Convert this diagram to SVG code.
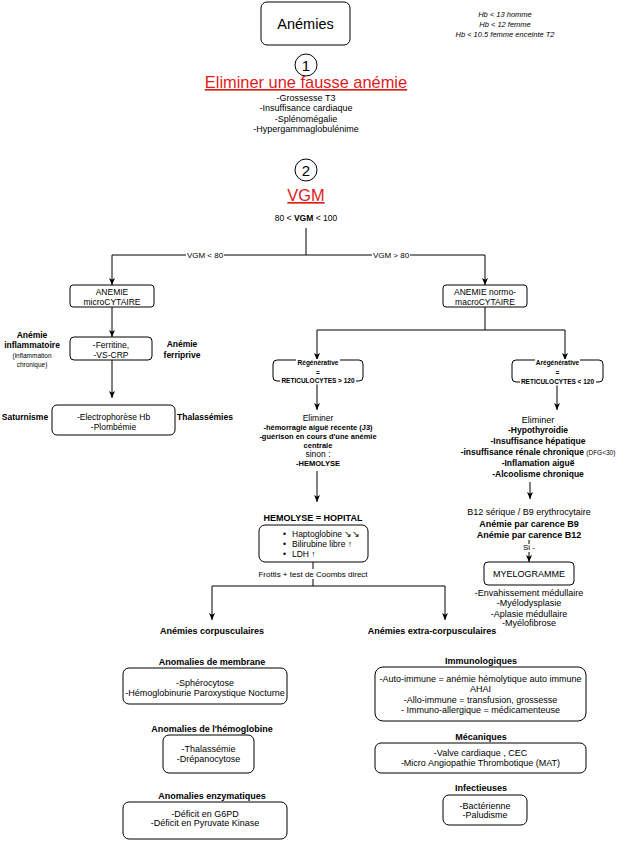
<svg xmlns="http://www.w3.org/2000/svg" width="618" height="841" viewBox="0 0 618 841">
<defs>
<style>
text{font-family:"Liberation Sans",Arial,Helvetica,sans-serif;fill:#000;text-anchor:middle}
.s9{font-size:9px}
.s85{font-size:8.5px}
.s8{font-size:8px}
.s75{font-size:7.5px}
.s65{font-size:6.5px}
.b{font-weight:bold}
.it{font-style:italic}
.red{fill:#e01b1b;text-decoration:underline}
.box{fill:#fff;stroke:#000;stroke-width:1}
.ln{fill:none;stroke:#000;stroke-width:1}
.bg{fill:#fff;stroke:none}
.st{text-anchor:start}
</style>
<marker id="ah" viewBox="0 0 7 8" refX="7" refY="4" markerWidth="7" markerHeight="8" markerUnits="userSpaceOnUse" orient="auto">
<path d="M0,1 L7,4 L0,7 L1.8,4 Z" fill="#000"/>
</marker>
</defs>
<rect width="618" height="841" fill="#fff"/>

<g id="connectors">
<path class="ln" d="M306,228 V255"/>
<path class="ln" d="M306,255 H112 V285" marker-end="url(#ah)"/>
<path class="ln" d="M306,255 H485 V285" marker-end="url(#ah)"/>
<rect class="bg" x="186" y="250" width="38" height="10"/>
<text class="s8" x="205" y="258">VGM &lt; 80</text>
<rect class="bg" x="372" y="250" width="38" height="10"/>
<text class="s8" x="391" y="258">VGM &gt; 80</text>
<path class="ln" d="M112,307 V337" marker-end="url(#ah)"/>
<path class="ln" d="M112,360 V398" marker-end="url(#ah)"/>
<path class="ln" d="M485,307 V330 H317 V360" marker-end="url(#ah)"/>
<path class="ln" d="M485,330 H565 V360" marker-end="url(#ah)"/>
<path class="ln" d="M317,381 V410" marker-end="url(#ah)"/>
<path class="ln" d="M557,382 V410" marker-end="url(#ah)"/>
<path class="ln" d="M317,471 V502" marker-end="url(#ah)"/>
<path class="ln" d="M530,482 V499" marker-end="url(#ah)"/>
<path class="ln" d="M529,540 V562" marker-end="url(#ah)"/>
<rect class="bg" x="519" y="544" width="20" height="8"/>
<text class="s8" x="529" y="549.5">Si -</text>
<path class="ln" d="M313,562 V586"/>
<rect class="bg" x="257" y="569" width="112" height="10"/>
<text class="s8" x="313" y="577">Frottis + test de Coombs direct</text>
<path class="ln" d="M313,586 H212 V620" marker-end="url(#ah)"/>
<path class="ln" d="M313,586 H445 V620" marker-end="url(#ah)"/>
</g>

<g id="node-anemies">
<rect class="box" x="261" y="2" width="89" height="43" rx="6"/>
<text x="305.5" y="29" style="font-size:14.5px">Anémies</text>
</g>

<g id="node-hb">
<text class="s75 it" x="505" y="16.5">Hb &lt; 13 homme</text>
<text class="s75 it" x="505" y="26.5">Hb &lt; 12 femme</text>
<text class="s75 it" x="505" y="37">Hb &lt; 10.5 femme enceinte T2</text>
</g>

<g id="node-step1">
<circle class="box" cx="306" cy="65" r="11"/>
<text x="306" y="70.5" style="font-size:15px">1</text>
<text class="red" x="306" y="88" style="font-size:16.4px">Eliminer une fausse anémie</text>
<text class="s9" x="306" y="101">-Grossesse T3</text>
<text class="s9" x="306" y="111.4">-Insuffisance cardiaque</text>
<text class="s9" x="306" y="121.8">-Splénomégalie</text>
<text class="s9" x="306" y="132.2">-Hypergammaglobulénime</text>
</g>

<g id="node-step2">
<circle class="box" cx="306" cy="170" r="11"/>
<text x="306" y="175.5" style="font-size:15px">2</text>
<text class="red" x="306" y="201" style="font-size:16.4px">VGM</text>
<text class="s85" x="306" y="221">80 &lt; <tspan class="b">VGM</tspan> &lt; 100</text>
</g>

<g id="node-micro">
<rect class="box" x="70" y="285" width="84" height="22" rx="3"/>
<text class="s85" x="112" y="295">ANEMIE</text>
<text class="s85" x="112" y="305">microCYTAIRE</text>
</g>

<g id="node-normo">
<rect class="box" x="443" y="285" width="84" height="22" rx="3"/>
<text class="s85" x="485" y="295">ANEMIE normo-</text>
<text class="s85" x="485" y="305">macroCYTAIRE</text>
</g>

<g id="node-ferritine">
<rect class="box" x="70" y="337" width="82" height="23" rx="4"/>
<text class="s85" x="111" y="348">-Ferritine,</text>
<text class="s85" x="111" y="358">-VS-CRP</text>
</g>

<g id="label-inflammatoire">
<text class="s85 b" x="32" y="338">Anémie</text>
<text class="s85 b" x="32" y="347.5">inflammatoire</text>
<text class="s65" x="32" y="358">(inflammation</text>
<text class="s65" x="32" y="367">chronique)</text>
</g>

<g id="label-ferriprive">
<text class="s85 b" x="182" y="347">Anémie</text>
<text class="s85 b" x="182" y="358">ferriprive</text>
</g>

<g id="node-electro">
<rect class="box" x="52" y="405" width="123" height="30" rx="5"/>
<text class="s85" x="113.5" y="420">-Electrophorèse Hb</text>
<text class="s85" x="113.5" y="430">-Plombémie</text>
</g>
<g id="label-saturnisme"><text class="s85 b" x="25" y="420">Saturnisme</text></g>
<g id="label-thalassemies"><text class="s85 b" x="205" y="420">Thalassémies</text></g>

<g id="node-regen">
<rect class="box" x="273" y="360" width="90" height="21" rx="4"/>
<rect class="bg" x="296" y="359" width="44" height="7"/>
<text class="s65 b" x="318" y="365.3">Régénérative</text>
<text class="s65 b" x="318" y="374.5">=</text>
<rect class="bg" x="280" y="377.5" width="76" height="7"/>
<text class="s65 b" x="318" y="383.3">RETICULOCYTES &gt; 120</text>
</g>

<g id="node-aregen">
<rect class="box" x="512" y="360" width="91" height="22" rx="4"/>
<rect class="bg" x="535" y="359" width="45" height="7"/>
<text class="s65 b" x="557.5" y="365.3">Arégénérative</text>
<text class="s65 b" x="557.5" y="374.5">=</text>
<rect class="bg" x="520" y="378.5" width="76" height="7"/>
<text class="s65 b" x="557.5" y="384.3">RETICULOCYTES &lt; 120</text>
</g>

<g id="node-eliminer-regen">
<text class="s85" x="318" y="421">Eliminer</text>
<text class="s75 b" x="318" y="430">-hémorragie aiguë récente (J3)</text>
<text class="s75 b" x="318" y="439">-guérison en cours d'une anémie</text>
<text class="s75 b" x="318" y="447.5">centrale</text>
<text class="s85" x="318" y="456.5">sinon :</text>
<text class="s75 b" x="318" y="466">-HEMOLYSE</text>
</g>

<g id="node-eliminer-aregen">
<text class="s9" x="538" y="423">Eliminer</text>
<text class="s85 b" x="538" y="433">-Hypothyroidie</text>
<text class="s85 b" x="538" y="444">-Insuffisance hépatique</text>
<text class="s85 b" x="538" y="455">-insuffisance rénale chronique <tspan class="s65" style="font-weight:normal">(DFG&lt;30)</tspan></text>
<text class="s85 b" x="538" y="466">-Inflamation aiguë</text>
<text class="s85 b" x="538" y="477">-Alcoolisme chronique</text>
</g>

<g id="node-b12">
<text class="s9" x="529" y="515">B12 sérique / B9 erythrocytaire</text>
<text class="s9 b" x="529" y="527">Anémie par carence B9</text>
<text class="s9 b" x="529" y="538">Anémie par carence B12</text>
</g>

<g id="node-myelogramme">
<rect class="box" x="484" y="562" width="90" height="23" rx="4"/>
<text class="s9" x="529" y="576.5">MYELOGRAMME</text>
<text class="s9" x="529" y="596">-Envahissement médullaire</text>
<text class="s9" x="529" y="605.5">-Myélodysplasie</text>
<text class="s9" x="529" y="616.5">-Aplasie médullaire</text>
<text class="s9" x="529" y="626">-Myélofibrose</text>
</g>

<g id="node-hemolyse">
<text class="s9 b" x="313" y="521">HEMOLYSE = HOPITAL</text>
<rect class="box" x="259" y="525" width="109" height="37" rx="6"/>
<text class="s85 st" x="283" y="537">•</text>
<text class="s85 st" x="292" y="537">Haptoglobine ↘↘</text>
<text class="s85 st" x="283" y="547">•</text>
<text class="s85 st" x="292" y="547">Bilirubine libre ↑</text>
<text class="s85 st" x="283" y="557">•</text>
<text class="s85 st" x="292" y="557">LDH ↑</text>
</g>

<g id="label-corpusculaires"><text class="s9 b" x="212" y="634">Anémies corpusculaires</text></g>
<g id="label-extra"><text class="s9 b" x="432" y="634">Anémies extra-corpusculaires</text></g>

<g id="node-membrane">
<text class="s9 b" x="212" y="665">Anomalies de membrane</text>
<rect class="box" x="123" y="668" width="164" height="36" rx="6"/>
<text class="s9" x="205" y="686">-Sphérocytose</text>
<text class="s9" x="205" y="696">-Hémoglobinurie Paroxystique Nocturne</text>
</g>

<g id="node-hemoglobine">
<text class="s9 b" x="212" y="732">Anomalies de l'hémoglobine</text>
<rect class="box" x="163" y="735" width="91" height="38" rx="6"/>
<text class="s9" x="208.5" y="752">-Thalassémie</text>
<text class="s9" x="208.5" y="762">-Drépanocytose</text>
</g>

<g id="node-enzymatiques">
<text class="s9 b" x="212" y="799">Anomalies enzymatiques</text>
<rect class="box" x="123" y="802" width="164" height="37" rx="6"/>
<text class="s9" x="205" y="817">-Déficit en G6PD</text>
<text class="s9" x="205" y="826">-Déficit en Pyruvate Kinase</text>
</g>

<g id="node-immuno">
<text class="s9 b" x="481" y="664">Immunologiques</text>
<rect class="box" x="375" y="667" width="211" height="54" rx="8"/>
<text class="s9" x="480.5" y="682">-Auto-immune = anémie hémolytique auto immune</text>
<text class="s9" x="480.5" y="691.5">AHAI</text>
<text class="s9" x="480.5" y="702.5">-Allo-immune = transfusion, grossesse</text>
<text class="s9" x="480.5" y="712.5">- Immuno-allergique = médicamenteuse</text>
</g>

<g id="node-mecaniques">
<text class="s9 b" x="481" y="740">Mécaniques</text>
<rect class="box" x="375" y="743" width="211" height="30" rx="6"/>
<text class="s9" x="480.5" y="756">-Valve cardiaque , CEC</text>
<text class="s9" x="480.5" y="766">-Micro Angiopathie Thrombotique (MAT)</text>
</g>

<g id="node-infectieuses">
<text class="s9 b" x="481" y="791">Infectieuses</text>
<rect class="box" x="443" y="795" width="84" height="30" rx="6"/>
<text class="s9" x="485" y="809">-Bactérienne</text>
<text class="s9" x="485" y="818">-Paludisme</text>
</g>
</svg>
